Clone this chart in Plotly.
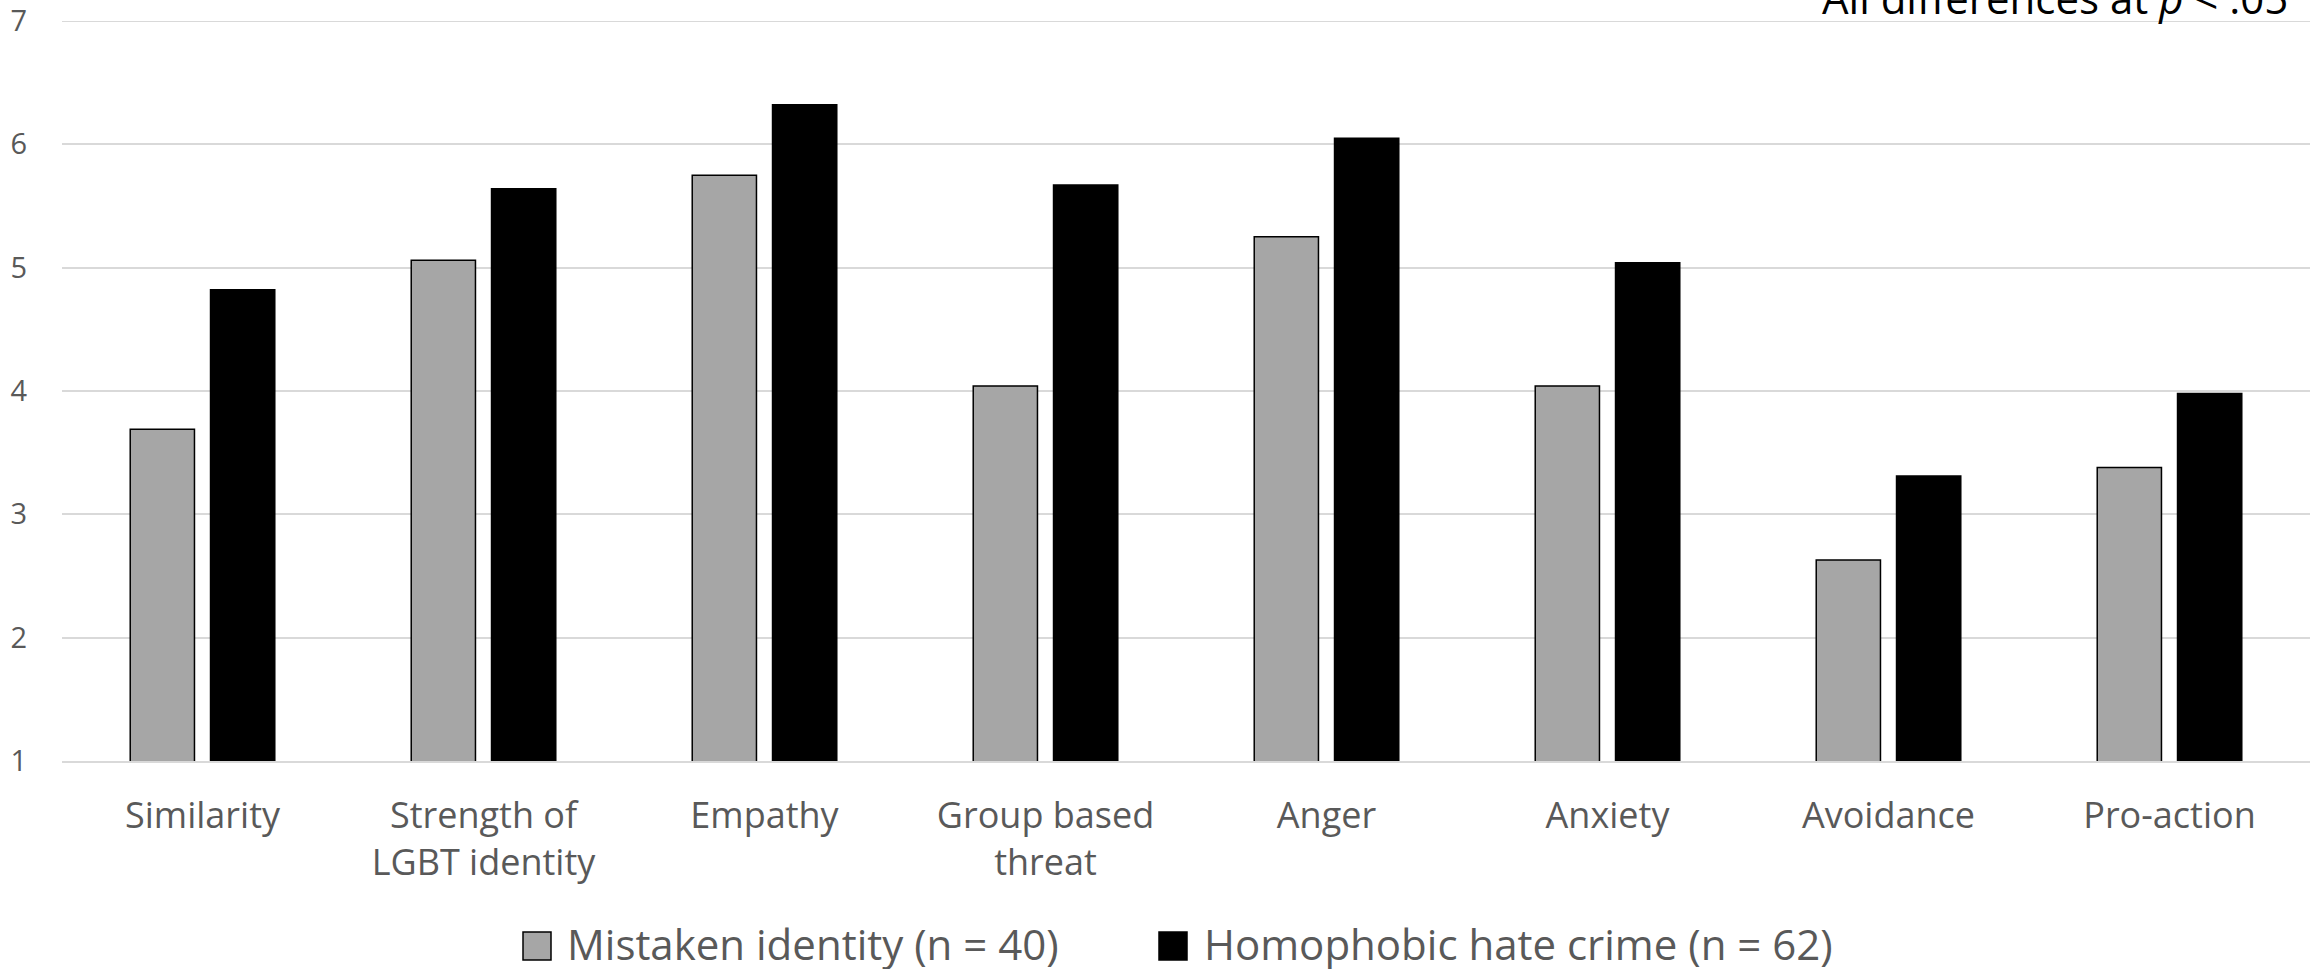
import plotly.graph_objects as go

# Mean ratings per measure, by condition
categories = [
    "Similarity",
    "Strength of<br>LGBT identity",
    "Empathy",
    "Group based<br>threat",
    "Anger",
    "Anxiety",
    "Avoidance",
    "Pro-action",
]
mistaken_identity = [3.69, 5.06, 5.75, 4.04, 5.25, 4.04, 2.63, 3.38]
hate_crime = [4.82, 5.64, 6.32, 5.67, 6.05, 5.04, 3.31, 3.98]
series_names = ["Mistaken identity (n = 40)", "Homophobic hate crime (n = 62)"]
y_ticks = [1, 2, 3, 4, 5, 6, 7]

W, H = 2318, 969
M_L, M_R, M_T, M_B = 62, 8, 21, 208
FONT = "Open Sans"
GREY_TXT = "#595959"
GRID = "#d9d9d9"
fills = ["#a6a6a6", "#000000"]

fig = go.Figure()
for name, vals, fill in zip(series_names, [mistaken_identity, hate_crime], fills):
    fig.add_trace(go.Bar(
        x=categories, y=vals, name=name,
        marker=dict(color=fill, line=dict(color="#000000", width=1.5)),
        showlegend=False,
    ))

# pixel -> paper helpers for the hand-placed legend and note
pw, ph = W - M_L - M_R, H - M_T - M_B
def px_x(x):
    return (x - M_L) / pw
def px_y(y):
    return (H - M_B - y) / ph

# top gridline sits on the plot edge, so draw it explicitly
shapes = [dict(type="line", xref="paper", yref="y", x0=0, x1=1,
               y0=y_ticks[-1], y1=y_ticks[-1], line=dict(color=GRID, width=2),
               layer="below")]
annotations = []
legend_items = [(523, 565), (1159, 1202)]
for (bx, tx), name, fill in zip(legend_items, series_names, fills):
    shapes.append(dict(
        type="rect", xref="paper", yref="paper",
        x0=px_x(bx), x1=px_x(bx + 28), y0=px_y(960), y1=px_y(932),
        fillcolor=fill, line=dict(color="#000000", width=1.5),
    ))
    annotations.append(dict(
        text=name, xref="paper", yref="paper",
        x=px_x(tx), y=px_y(943), xanchor="left", yanchor="middle",
        showarrow=False, font=dict(family=FONT, size=42, color=GREY_TXT),
    ))

annotations.append(dict(
    text="All differences at <i>p</i> < .05", xref="paper", yref="paper",
    x=px_x(2290), y=px_y(28), xanchor="right", yanchor="bottom",
    showarrow=False, font=dict(family=FONT, size=42, color="#000000"),
))

fig.update_layout(
    width=W, height=H,
    margin=dict(l=M_L, r=M_R, t=M_T, b=M_B, pad=0, autoexpand=False),
    paper_bgcolor="white", plot_bgcolor="white",
    barmode="group", bargap=0.4285, bargroupgap=0.2,
    font=dict(family=FONT, color=GREY_TXT),
    shapes=shapes, annotations=annotations,
    xaxis=dict(
        showgrid=False, showline=True, linecolor=GRID, linewidth=2,
        tickfont=dict(size=36, color=GREY_TXT), ticks="",
        ticklabelstandoff=22, automargin=False, fixedrange=True,
    ),
    yaxis=dict(
        range=[1, 7], tickvals=y_ticks, showgrid=True, gridcolor=GRID,
        gridwidth=2, zeroline=False, showline=False, ticks="",
        tickfont=dict(size=29, color=GREY_TXT), ticklabelstandoff=34,
        automargin=False, fixedrange=True,
    ),
)

fig.write_html("out.html")
